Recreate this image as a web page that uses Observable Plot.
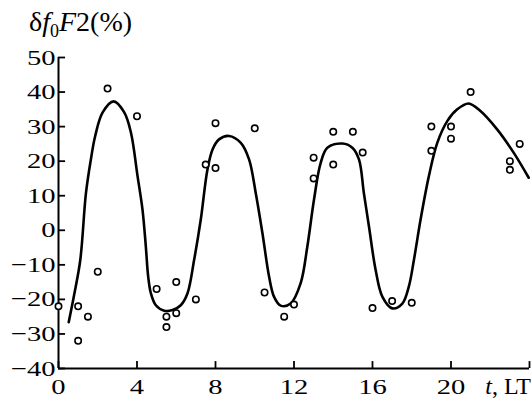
<!DOCTYPE html>
<html>
<head>
<meta charset="utf-8">
<script src="https://cdn.jsdelivr.net/npm/d3@7"></script>
<script src="https://cdn.jsdelivr.net/npm/@observablehq/plot@0.6"></script>
<style>
  html, body { margin: 0; padding: 0; background: white; }
  svg { display: block; }
  svg text { font-family: "Liberation Serif", "Times New Roman", "DejaVu Serif", serif !important; }
</style>
</head>
<body>
<div id="chart"></div>
<script>
// Observed points: local time (h) and deviation (%)
const obsHours = [0, 1, 1, 1.5, 2, 2.5, 4, 5, 5.5, 5.5, 6, 6, 7, 7.5, 8, 8, 10, 10.5, 11.5, 12, 13, 13, 14, 14, 15, 15.5, 16, 17, 18, 19, 19, 20, 20, 21, 23, 23, 23.5];
const obsDev   = [-22, -22, -32, -25, -12, 41, 33, -17, -25, -28, -15, -24, -20, 19, 31, 18, 29.5, -18, -25, -21.5, 21, 15, 28.5, 19, 28.5, 22.5, -22.5, -20.5, -21, 30, 23, 30, 26.5, 40, 20, 17.5, 25];

// Fitted curve
const curveHours = [0.52, 0.81, 1.11, 1.40, 1.65, 1.87, 2.25, 2.81, 3.35, 3.69, 4.03, 4.28, 4.45, 4.57, 4.71, 4.96, 5.39, 5.81, 6.23, 6.57, 6.91, 7.25, 7.59, 7.85, 8.18, 8.69, 9.29, 9.71, 10.05, 10.39, 10.73, 10.98, 11.32, 11.83, 12.34, 12.68, 13.02, 13.36, 13.70, 14.46, 14.97, 15.31, 15.56, 15.82, 16.16, 16.50, 17.01, 17.52, 17.85, 18.11, 18.45, 18.87, 19.30, 19.81, 20.32, 20.90, 21.50, 22.35, 23.20, 23.96];
const curveDev   = [-26.6, -18.3, -8.6, 10.8, 20.5, 27.3, 34.1, 37.3, 34.1, 28.3, 15.6, 6.0, -4.7, -13.4, -18.3, -21.7, -23.3, -23.1, -21.7, -18.3, -8.6, 3.1, 17.6, 23.4, 26.3, 27.3, 25.3, 20.5, 10.8, -0.8, -13.4, -19.2, -21.8, -21.2, -15.3, -4.7, 8.9, 19.5, 23.9, 25.1, 23.9, 20.5, 10.8, 1.1, -11.5, -19.2, -22.6, -21.2, -16.3, -8.6, 3.1, 15.6, 25.3, 31.6, 35.0, 36.7, 34.5, 29.2, 22.4, 15.2];

// Tick values
const xTickMarks  = [0, 4, 8, 12, 16, 20, 24];
const xTickLabels = [0, 4, 8, 12, 16, 20];
const yTicks      = [-40, -30, -20, -10, 0, 10, 20, 30, 40, 50];

const obs = obsHours.map((t, i) => ({t, v: obsDev[i]}));
const curve = curveHours.map((t, i) => ({t, v: curveDev[i]}));

const chart = Plot.plot({
  width: 532,
  height: 404,
  marginLeft: 58,
  marginRight: 3,
  marginTop: 57,
  marginBottom: 36,
  style: {fontSize: "22px", color: "black", background: "white"},
  x: {domain: [0, 24]},
  y: {domain: [-40, 50]},
  marks: [
    Plot.ruleX([0], {y1: -40, y2: 50, strokeWidth: 2}),
    Plot.ruleY([-40], {x1: 0, x2: 24, strokeWidth: 2}),
    Plot.ruleX(xTickMarks, {x: d => d, y1: -40, y2: -38, strokeWidth: 1.8}),
    Plot.ruleY(yTicks, {y: d => d, x1: 0, x2: 0.36, strokeWidth: 1.8}),
    Plot.axisX({ticks: xTickLabels, tickSize: 0, tickPadding: 10, fontSize: 22, tickFormat: d => String(d), label: null}),
    Plot.axisY({ticks: yTicks, tickSize: 0, tickPadding: 3, fontSize: 22, label: null}),
    Plot.line(curve, {x: "t", y: "v", curve: "catmull-rom", strokeWidth: 2.6, stroke: "black"}),
    Plot.dot(obs, {x: "t", y: "v", r: 3.2, stroke: "black", fill: "white", strokeWidth: 1.6})
  ]
});

const svg = d3.select(chart);
// widen the tick-label glyphs horizontally (reference type is broad)
svg.selectAll("text").each(function() {
  const tr = this.getAttribute("transform") || "";
  this.setAttribute("transform", (tr + " scale(1.3,1)").trim());
});

const title = svg.append("text")
  .attr("x", 29).attr("y", 31)
  .attr("text-anchor", "start")
  .style("font-size", "28px")
  .attr("fill", "black");
title.append("tspan").text("δ");
title.append("tspan").attr("font-style", "italic").text("f");
title.append("tspan").style("font-size", "18px").attr("dy", 6).text("0");
title.append("tspan").attr("font-style", "italic").attr("dy", -6).text("F");
title.append("tspan").text("2(%)");

const xlab = svg.append("text")
  .attr("x", 531).attr("y", 394)
  .attr("text-anchor", "end")
  .style("font-size", "24px")
  .attr("fill", "black");
xlab.append("tspan").attr("font-style", "italic").text("t");
xlab.append("tspan").text(", LT");

document.getElementById("chart").appendChild(chart);
</script>
</body>
</html>
